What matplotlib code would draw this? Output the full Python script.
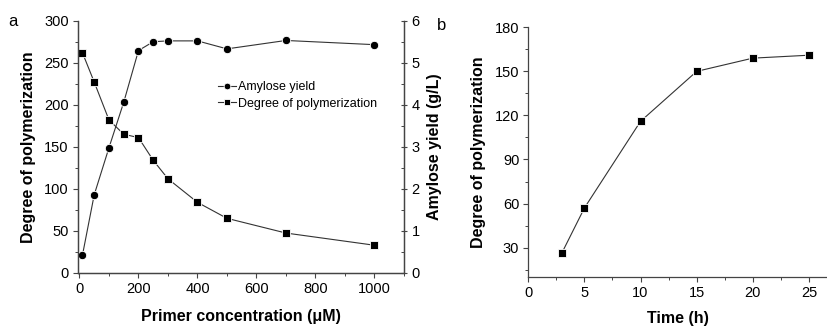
import matplotlib.pyplot as plt
from matplotlib.ticker import MultipleLocator

plt.rcParams['font.family'] = ['Liberation Sans', 'DejaVu Sans']

# panel a
stezenie = [10, 50, 100, 150, 200, 250, 300, 400, 500, 700, 1000]
dp_a = [262, 227, 182, 165, 161, 134, 112, 84, 65, 47.5, 33]
wydajnosc = [0.42, 1.86, 2.98, 4.06, 5.29, 5.5, 5.52, 5.52, 5.33, 5.53, 5.43]

# panel b
czas = [3, 5, 10, 15, 20, 25]
dp_b = [26.5, 57, 116, 150, 159, 161]

szary = '#444444'
linia = '#333333'
ROZM_TICK = 10.5
ROZM_OS = 11.5

fig = plt.figure(figsize=(8.28, 3.26), dpi=100)
ax = fig.add_axes([77.7 / 828, 1 - 273 / 326, (404 - 77.7) / 828, (273 - 20.7) / 326])
ax2 = ax.twinx()

l1, = ax2.plot(stezenie, wydajnosc, marker='o', color=linia, lw=0.8, markersize=6,
               markerfacecolor='black', markeredgecolor='white', markeredgewidth=0.6)
l2, = ax.plot(stezenie, dp_a, marker='s', color=linia, lw=0.8, markersize=6,
              markerfacecolor='black', markeredgecolor='white', markeredgewidth=0.6)

ax.set_xlim(-6, 1100)
ax.set_ylim(0, 300)
ax2.set_ylim(0, 6)
ax.xaxis.set_major_locator(MultipleLocator(200))
ax.xaxis.set_minor_locator(MultipleLocator(100))
ax.yaxis.set_major_locator(MultipleLocator(50))
ax.yaxis.set_minor_locator(MultipleLocator(25))
ax2.yaxis.set_major_locator(MultipleLocator(1))
ax2.yaxis.set_minor_locator(MultipleLocator(0.5))

ax.set_xlabel('Primer concentration (μM)', fontsize=ROZM_OS, fontweight='bold', labelpad=9)
ax.set_ylabel('Degree of polymerization', fontsize=ROZM_OS, fontweight='bold', labelpad=6)
ax2.set_ylabel('Amylose yield (g/L)', fontsize=ROZM_OS, fontweight='bold', labelpad=5)

for a in (ax, ax2):
    a.spines['top'].set_visible(False)
    for s in a.spines.values():
        s.set_color(szary)
        s.set_linewidth(0.9)
    a.tick_params(which='major', length=3.5, width=0.8, color=szary, labelsize=ROZM_TICK, pad=3)
    a.tick_params(which='minor', length=2, width=0.7, color=szary)
ax2.tick_params(axis='y', which='major', direction='inout', length=5)
ax2.tick_params(axis='y', which='minor', direction='in')

ax.legend([l1, l2], ['Amylose yield', 'Degree of polymerization'], loc='upper left',
          bbox_to_anchor=(0.412, 0.785), frameon=False, fontsize=9, handlelength=1.4,
          handletextpad=0.15, labelspacing=0.35, borderpad=0, numpoints=1, markerscale=0.8)

fig.text(8 / 828, 1 - 22 / 326, 'a', fontsize=12, va='center', ha='left')

# panel b
bx = fig.add_axes([528.3 / 828, 1 - 277 / 326, (828 - 528.3) / 828, (277 - 27.3) / 326])
bx.plot(czas, dp_b, marker='s', color=linia, lw=0.8, markersize=6,
        markerfacecolor='black', markeredgecolor='white', markeredgewidth=0.6)
bx.set_xlim(0, 26.7)
bx.set_ylim(10, 180)
bx.xaxis.set_major_locator(MultipleLocator(5))
bx.xaxis.set_minor_locator(MultipleLocator(2.5))
bx.yaxis.set_major_locator(MultipleLocator(30))
bx.yaxis.set_minor_locator(MultipleLocator(15))
bx.spines['top'].set_visible(False)
bx.spines['right'].set_visible(False)
for s in bx.spines.values():
    s.set_color(szary)
    s.set_linewidth(0.9)
bx.tick_params(which='major', length=3.5, width=0.8, color=szary, labelsize=ROZM_TICK, pad=3)
bx.tick_params(which='minor', length=2, width=0.7, color=szary)
bx.set_xlabel('Time (h)', fontsize=ROZM_OS, fontweight='bold', labelpad=8)
bx.set_ylabel('Degree of polymerization', fontsize=ROZM_OS, fontweight='bold', labelpad=6)

fig.text(437 / 828, 1 - 25 / 326, 'b', fontsize=12, va='center', ha='left')

fig.savefig('out.png', dpi=100)
